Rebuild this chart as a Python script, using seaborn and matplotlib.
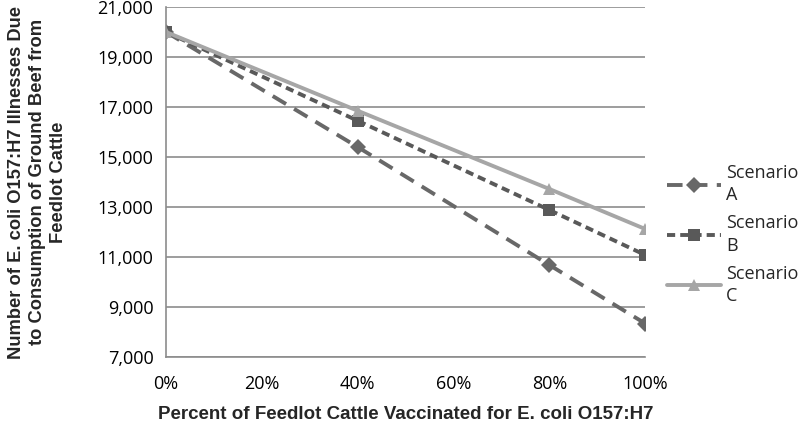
import pandas as pd
import matplotlib.pyplot as plt
import seaborn as sns
from matplotlib.ticker import FuncFormatter

# dados
pct_vacinado = [0, 40, 80, 100]
cenario_a = [20000, 15400, 10680, 8340]
cenario_b = [20000, 16450, 12880, 11080]
cenario_c = [20000, 16850, 13720, 12120]
cenarios = ["Scenario\nA", "Scenario\nB", "Scenario\nC"]

df = pd.DataFrame({
    "pct": pct_vacinado * 3,
    "casos": cenario_a + cenario_b + cenario_c,
    "cenario": [c for c in cenarios for _ in pct_vacinado],
})

sns.set_style("white")
plt.rcParams["font.family"] = ["Open Sans", "DejaVu Sans"]

fig = plt.figure(figsize=(8, 4.24), dpi=100)
ax = fig.add_axes([0.2075, 0.158, 0.599, 0.8255])

cores = {cenarios[0]: "#686868", cenarios[1]: "#595959", cenarios[2]: "#a6a6a6"}
tracos = {cenarios[0]: (4, 2.4), cenarios[1]: (2.1, 1.3), cenarios[2]: ""}
marcadores = {cenarios[0]: "D", cenarios[1]: "s", cenarios[2]: "^"}

sns.lineplot(data=df, x="pct", y="casos", hue="cenario", style="cenario",
             palette=cores, dashes=tracos, markers=marcadores, ax=ax,
             linewidth=2.8, markersize=8.5, markeredgewidth=0)

ax.set_xlim(0, 100)
ax.set_ylim(7000, 21000)
ax.set_xticks(range(0, 101, 20))
ax.set_yticks(range(7000, 21001, 2000))
ax.xaxis.set_major_formatter(FuncFormatter(lambda v, p: f"{v:.0f}%"))
ax.yaxis.set_major_formatter(FuncFormatter(lambda v, p: f"{v:,.0f}"))
ax.tick_params(axis="both", labelsize=13, length=5, width=1.2,
               color="#8c8c8c", labelcolor="black", direction="out")
ax.tick_params(axis="x", pad=8)
ax.tick_params(axis="y", pad=4)
ax.grid(axis="y", color="#8c8c8c", linewidth=1.2)
ax.grid(axis="x", visible=False)
for lado in ["top", "right"]:
    ax.spines[lado].set_visible(False)
for lado in ["left", "bottom"]:
    ax.spines[lado].set_color("#8c8c8c")
    ax.spines[lado].set_linewidth(1.2)

ax.set_xlabel("Percent of Feedlot Cattle Vaccinated for E. coli O157:H7",
              fontsize=13.5, fontweight="bold", family="Liberation Sans", labelpad=9)
ax.set_ylabel("Number of E. coli O157:H7 Illnesses Due\nto Consumption of Ground Beef from\nFeedlot Cattle",
              fontsize=13.2, fontweight="bold", family="Liberation Sans",
              labelpad=22, linespacing=1.3)

leg = ax.legend(loc="center left", bbox_to_anchor=(1.045, 0.35), frameon=False,
                fontsize=13, handlelength=3.0, handletextpad=0.3,
                labelspacing=0.55, borderaxespad=0, borderpad=0)
for t in leg.get_texts():
    t.set_linespacing(1.3)

plt.savefig("out.png", dpi=100)
